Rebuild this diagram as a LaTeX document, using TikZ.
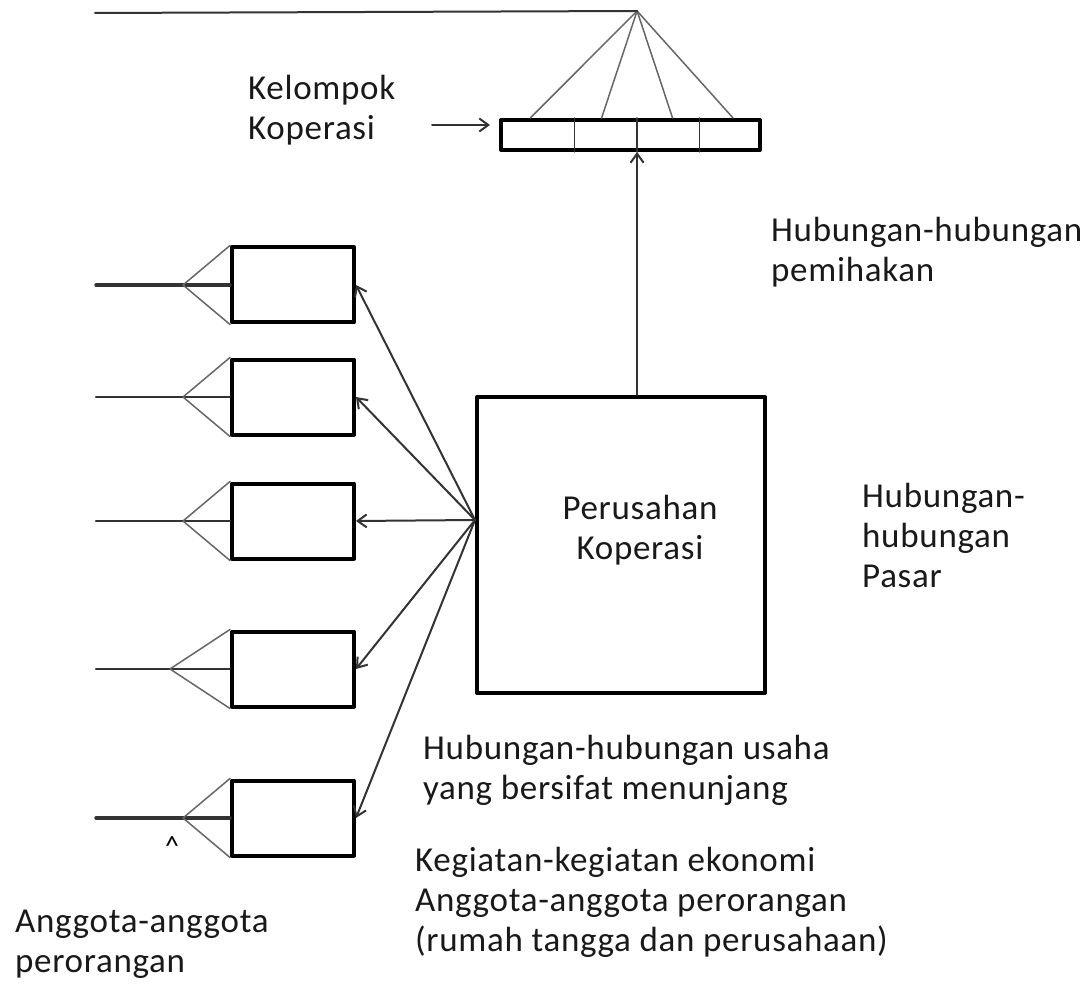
\documentclass[tikz,border=0pt]{standalone}
\usepackage{fontspec}
\setmainfont{Carlito}[LetterSpace=2]
\usetikzlibrary{arrows.meta,calc,positioning}

\begin{document}
\begin{tikzpicture}[x=1pt, y=-1pt, line cap=round, line join=round, font=\fontsize{35}{40}\selectfont, >={Straight Barb[length=9pt,width=13pt]},
  thinline/.style={black!80, line width=2pt}, fanline/.style={black!60, line width=1.5pt},
  boxline/.style={draw=black, line width=4pt, inner sep=0pt},
  memberbox/.style={boxline, minimum width=122pt, minimum height=75pt},
  txt/.style={anchor=west, align=left, inner sep=0pt, text=black!90}]
\useasboundingbox (0,0) rectangle (1088,995);
\node[boxline, minimum width=259pt, minimum height=30pt] (kk) at (630.5,135) {};
\node[boxline, minimum width=288pt, minimum height=296pt] (pk) at (621,545) {};
\node[align=center, inner sep=0pt, text=black!90] (pkt) at (640,530) {Perusahan\\Koperasi};
\coordinate (top) at ($(kk.north west)!0.525!(kk.north east)+(0,-107)$); \coordinate (lend) at (95,13); \coordinate (kin) at (432,125); \coordinate (src) at ($(pk.west)+(0,-25)$);
\foreach \f in {0.288,0.525,0.763} \draw[thinline, line width=1.5pt] ($(kk.north west)!\f!(kk.north east)$) -- ($(kk.south west)!\f!(kk.south east)$);
\foreach \f in {0.119,0.39,0.66,0.89} \draw[fanline] (top) -- ($(kk.north west)!\f!(kk.north east)$);
\draw[thinline] (lend) -- (top);
\draw[thinline, ->] (pk.north -| top) -- (kk.south -| top);
\draw[thinline, ->, shorten >=9pt] (kin) -- (kk.west |- kin);
\foreach \y/\ax/\w [count=\i] in {285/183/3.5,397/183/2.5,521/183/2.5,669/170/2.5,818/183/3.5} {
  \node[memberbox] (m\i) at (293,\y) {};
  \coordinate (e\i) at (96,\y); \coordinate (a\i) at (\ax,\y);
  \draw[thinline, line width=\w pt] (e\i) -- (m\i.west);
  \draw[fanline] (a\i) -- (m\i.north west) (a\i) -- (m\i.south west);
  \draw[thinline, ->] (src) -- (m\i.east);
}
\node[txt] (kel) at (248,110) {Kelompok\\Koperasi};
\node[txt] (pem) at (771,252) {Hubungan-hubungan\\pemihakan};
\node[txt] (pas) at (862,535) {Hubungan-\\hubungan\\Pasar};
\node[txt] (usa) at (423,770) {Hubungan-hubungan usaha\\yang bersifat menunjang};
\node[txt] (keg) at (415,902) {Kegiatan-kegiatan ekonomi\\Anggota-anggota perorangan\\(rumah tangga dan perusahaan)};
\node[txt] (ang) at (15,944) {Anggota-anggota\\perorangan};
\node[anchor=north, inner sep=0pt, font=\fontsize{28}{30}\selectfont] (hat) at (172,836) {\textasciicircum};
\end{tikzpicture}
\end{document}
